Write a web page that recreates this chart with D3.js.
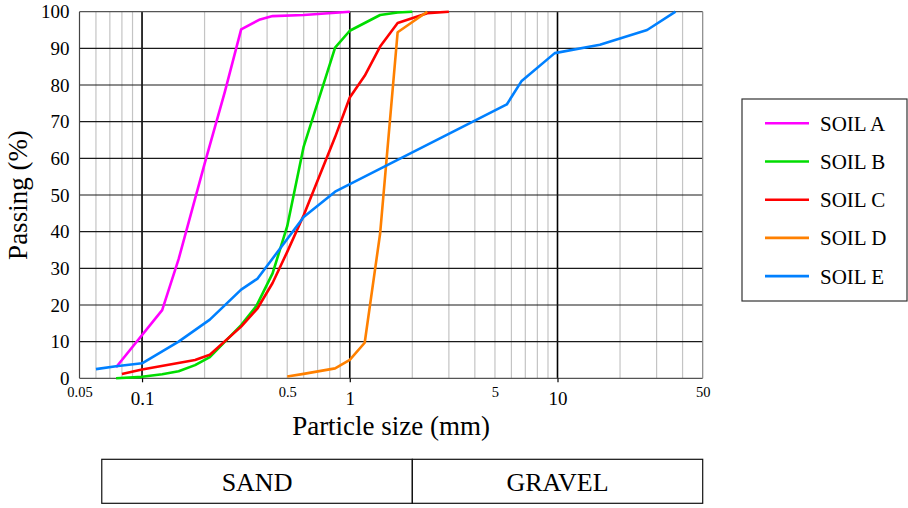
<!DOCTYPE html>
<html>
<head>
<meta charset="utf-8">
<script src="https://cdn.jsdelivr.net/npm/d3@7"></script>
<style>
  body { margin: 0; background: #fff; }
  svg { display: block; }
</style>
</head>
<body>
<div id="chart"></div>
<script>
(() => {
const width = 908, height = 508;

// sieve sizes (mm) and % passing
const soilA_size = [0.075, 0.125, 0.15, 0.2, 0.25, 0.3, 0.37, 0.425, 0.6, 1.0];
const soilA_pass = [3, 18.6, 32.5, 58.5, 78, 95.2, 97.9, 98.8, 99.1, 100];
const soilB_size = [0.075, 0.1, 0.125, 0.15, 0.18, 0.212, 0.3, 0.355, 0.425, 0.5, 0.6, 0.85, 1.0, 1.4, 1.7, 2.0];
const soilB_pass = [0, 0.4, 1.1, 1.9, 3.6, 5.8, 14.5, 19.7, 28.6, 41.5, 63.2, 90.2, 94.8, 99.1, 99.8, 100];
const soilC_size = [0.08, 0.1, 0.18, 0.212, 0.3, 0.36, 0.425, 0.5, 0.6, 0.85, 1.0, 1.18, 1.4, 1.7, 2.36, 3.0];
const soilC_pass = [1.2, 2.4, 5, 6.4, 14.1, 19.1, 26, 34.5, 44.5, 65.8, 76.6, 82.5, 90.5, 96.9, 99.6, 100];
const soilD_size = [0.5, 0.6, 0.85, 1.0, 1.18, 1.4, 1.7, 2.36];
const soilD_pass = [0.5, 1.2, 2.7, 5, 9.7, 39.5, 94.4, 100];
const soilE_size = [0.06, 0.075, 0.1, 0.15, 0.212, 0.3, 0.36, 0.6, 0.85, 5.7, 6.7, 9.7, 16, 27, 37];
const soilE_pass = [2.5, 3.3, 4.1, 10, 16, 24.2, 27.2, 44, 50.9, 74.7, 81, 88.7, 91, 95, 100];

const soilNames = ["SOIL A", "SOIL B", "SOIL C", "SOIL D", "SOIL E"];
const soilColors = ["#ff00ff", "#00dd00", "#ff0000", "#ff8000", "#0080ff"];
const soilSizes = [soilA_size, soilB_size, soilC_size, soilD_size, soilE_size];
const soilPass = [soilA_pass, soilB_pass, soilC_pass, soilD_pass, soilE_pass];

const majorTicks = [0.1, 1, 10];
const minorTicks = [0.05, 0.5, 5, 50];
const yTicks = [0, 10, 20, 30, 40, 50, 60, 70, 80, 90, 100];

const zoneNames = ["SAND", "GRAVEL"];
const zoneBounds = [0.064, 2, 50];

const serif = "'Liberation Serif', 'DejaVu Serif', serif";
const margin = {left: 79.5, right: 205.3, top: 11.7, bottom: 129.7};

const svg = d3.select("#chart").append("svg")
    .attr("width", width).attr("height", height)
    .attr("font-family", serif);

const x = d3.scaleLog().domain([0.05, 50]).range([margin.left, width - margin.right]);
const y = d3.scaleLinear().domain([0, 100]).range([height - margin.bottom, margin.top]);

// vertical grid
const gridVals = x.ticks().filter(v => v > 0.05 && v < 50);
svg.append("g")
  .selectAll("line")
  .data(gridVals)
  .join("line")
    .attr("x1", d => x(d)).attr("x2", d => x(d))
    .attr("y1", y(0)).attr("y2", y(100))
    .attr("stroke", d => majorTicks.includes(d) ? "#000" : "#c4c4c4")
    .attr("stroke-width", d => majorTicks.includes(d) ? 1.6 : 1.2);

// horizontal grid
svg.append("g")
  .selectAll("line")
  .data(yTicks)
  .join("line")
    .attr("x1", x(0.05)).attr("x2", x(50))
    .attr("y1", d => y(d)).attr("y2", d => y(d))
    .attr("stroke", d => (d === 0 || d === 100) ? "#555" : "#1a1a1a")
    .attr("stroke-width", 1.2);

// frame sides
svg.append("line")
  .attr("x1", x(0.05)).attr("x2", x(0.05)).attr("y1", y(0)).attr("y2", y(100))
  .attr("stroke", "#444").attr("stroke-width", 1.2);
svg.append("line")
  .attr("x1", x(50)).attr("x2", x(50)).attr("y1", y(0)).attr("y2", y(100))
  .attr("stroke", "#888").attr("stroke-width", 1.2);

// y axis labels
const yAxis = svg.append("g")
  .attr("transform", `translate(${x(0.05)},0)`)
  .call(d3.axisLeft(y).tickValues(yTicks).tickSize(0).tickPadding(10));
yAxis.select(".domain").remove();
yAxis.attr("font-family", serif);
yAxis.selectAll("text").attr("font-size", 19).attr("fill", "#000");

// x axis labels: major (big) and minor (small)
const xMajor = svg.append("g")
  .attr("transform", `translate(0,${y(0)})`)
  .call(d3.axisBottom(x).tickValues(majorTicks).tickFormat(d3.format("~g")).tickSize(4).tickPadding(9));
xMajor.select(".domain").remove();
xMajor.attr("font-family", serif);
xMajor.selectAll("text").attr("font-size", 19).attr("fill", "#000");
xMajor.selectAll("line").attr("stroke", "#000").attr("stroke-width", 1.2);

const xMinor = svg.append("g")
  .attr("transform", `translate(0,${y(0)})`)
  .call(d3.axisBottom(x).tickValues(minorTicks).tickFormat(d3.format("~g")).tickSize(0).tickPadding(8));
xMinor.select(".domain").remove();
xMinor.attr("font-family", serif);
xMinor.selectAll("text").attr("font-size", 14.5).attr("fill", "#000");

// curves
const line = d3.line().x(d => x(d[0])).y(d => y(d[1]));
soilNames.forEach((name, i) => {
  const pts = d3.zip(soilSizes[i], soilPass[i]);
  svg.append("path")
    .datum(pts)
    .attr("d", line)
    .attr("fill", "none")
    .attr("stroke", soilColors[i])
    .attr("stroke-width", 2.6)
    .attr("stroke-linejoin", "round");
});

// axis titles
svg.append("text")
  .attr("x", (x(0.05) + x(50)) / 2).attr("y", 434.5)
  .attr("text-anchor", "middle").attr("font-size", 27)
  .text("Particle size (mm)");
svg.append("text")
  .attr("transform", `translate(27,${(y(0) + y(100)) / 2}) rotate(-90)`)
  .attr("text-anchor", "middle").attr("font-size", 27)
  .text("Passing (%)");

// legend
const legend = svg.append("g").attr("transform", "translate(742,99)");
legend.append("rect")
  .attr("width", 165).attr("height", 202)
  .attr("fill", "#fff").attr("stroke", "#333").attr("stroke-width", 1.2);
const items = legend.selectAll("g.item")
  .data(soilNames)
  .join("g")
    .attr("class", "item")
    .attr("transform", (d, i) => `translate(0,${24.3 + i * 38.2})`);
items.append("line")
  .attr("x1", 23).attr("x2", 67)
  .attr("stroke", (d, i) => soilColors[i]).attr("stroke-width", 2.6);
items.append("text")
  .attr("x", 78).attr("y", 7.5)
  .attr("font-size", 21)
  .text(d => d);

// soil classification band
const band = svg.append("g");
const zones = d3.pairs(zoneBounds);
band.selectAll("rect")
  .data(zones)
  .join("rect")
    .attr("x", d => x(d[0])).attr("width", d => x(d[1]) - x(d[0]))
    .attr("y", 459.3).attr("height", 44)
    .attr("fill", "none").attr("stroke", "#111").attr("stroke-width", 1.2);
band.selectAll("text")
  .data(zones)
  .join("text")
    .attr("x", d => (x(d[0]) + x(d[1])) / 2).attr("y", 491)
    .attr("text-anchor", "middle").attr("font-size", 26)
    .text((d, i) => zoneNames[i]);
})();
</script>
</body>
</html>
